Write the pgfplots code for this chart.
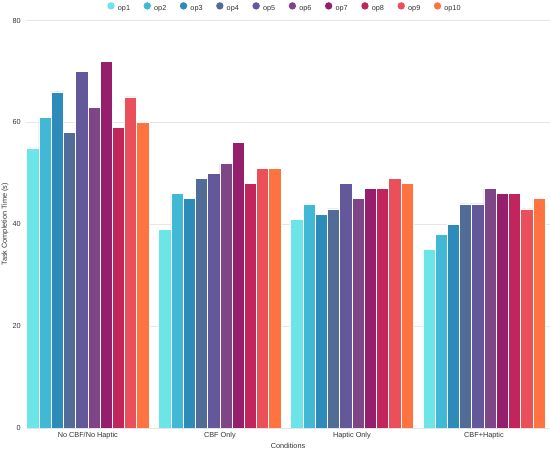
\documentclass[border=0pt]{standalone}
\usepackage{fontspec}
\setmainfont{Liberation Sans}
\usepackage{pgfplots}
\usepackage{pgfplotstable}
\pgfplotsset{compat=1.18}
\definecolor{c1}{HTML}{6CE5E8}
\definecolor{c2}{HTML}{41B8D5}
\definecolor{c3}{HTML}{2D8BBA}
\definecolor{c4}{HTML}{506C97}
\definecolor{c5}{HTML}{63589A}
\definecolor{c6}{HTML}{7E4587}
\definecolor{c7}{HTML}{951F6D}
\definecolor{c8}{HTML}{C2255C}
\definecolor{c9}{HTML}{EB4F5A}
\definecolor{c10}{HTML}{FF7341}
\definecolor{gridc}{HTML}{E6E6E6}
\definecolor{txt}{HTML}{333333}
\pgfplotstableread{
x op1 op2 op3 op4 op5 op6 op7 op8 op9 op10
0 55 61 66 58 70 63 72 59 65 60
1 39 46 45 49 50 52 56 48 51 51
2 41 44 42 43 48 45 47 47 49 48
3 35 38 40 44 44 47 46 46 43 45
}\data
\newcommand{\fs}{\fontsize{7.3}{9}\selectfont}
\begin{document}
\begin{tikzpicture}
\useasboundingbox (-26pt,-25pt) rectangle (524pt,428pt);
\begin{axis}[
  scale only axis, width=524pt, height=407.5pt,
  xmin=-0.468, xmax=3.5, ymin=0, ymax=80,
  ybar=0pt, bar width=0.0926,
  xtick={0,1,2,3},
  xticklabels={No CBF/No Haptic, CBF Only, Haptic Only, CBF+Haptic},
  ytick={0,20,40,60,80},
  /pgf/number format/assume math mode=true,
  ymajorgrids, grid style={line width=0.5pt, color=gridc},
  axis line style={draw=none},
  major tick length=0pt,
  tick label style={font=\fs, text=txt},
  xticklabel style={anchor=center, yshift=-8pt},
  yticklabel style={anchor=east, inner sep=0pt, xshift=-5pt},
  xlabel={Conditions}, ylabel={Task Completion Time (s)},
  every axis x label/.style={at={(axis description cs:0.5,0)}, anchor=center, yshift=-18pt, font=\fs, text=txt},
  every axis y label/.style={at={(axis description cs:0,0.5)}, xshift=-21pt, rotate=90, anchor=center, font=\fs, text=txt},
  legend columns=10,
  legend image code/.code={\fill[#1,draw=none] (3.7pt,2.6pt) circle (3.7pt);},
  legend style={at={(axis description cs:0,1)}, anchor=west, xshift=81.3pt, yshift=13.5pt,
    draw=none, fill=none, inner sep=0pt, outer sep=0pt, font=\fs,
    nodes={inner sep=0pt, text=txt, font=\fs},
    /tikz/every even column/.append style={column sep=13.5pt},
    /tikz/every odd column/.append style={column sep=3.2pt}},
]
\addplot[fill=c1, draw=white, line width=0.6pt, bar shift=-0.4167] table[x=x,y=op1]{\data};
\addlegendentry{op1}
\addplot[fill=c2, draw=white, line width=0.6pt, bar shift=-0.3241] table[x=x,y=op2]{\data};
\addlegendentry{op2}
\addplot[fill=c3, draw=white, line width=0.6pt, bar shift=-0.2315] table[x=x,y=op3]{\data};
\addlegendentry{op3}
\addplot[fill=c4, draw=white, line width=0.6pt, bar shift=-0.1389] table[x=x,y=op4]{\data};
\addlegendentry{op4}
\addplot[fill=c5, draw=white, line width=0.6pt, bar shift=-0.0463] table[x=x,y=op5]{\data};
\addlegendentry{op5}
\addplot[fill=c6, draw=white, line width=0.6pt, bar shift=0.0463] table[x=x,y=op6]{\data};
\addlegendentry{op6}
\addplot[fill=c7, draw=white, line width=0.6pt, bar shift=0.1389] table[x=x,y=op7]{\data};
\addlegendentry{op7}
\addplot[fill=c8, draw=white, line width=0.6pt, bar shift=0.2315] table[x=x,y=op8]{\data};
\addlegendentry{op8}
\addplot[fill=c9, draw=white, line width=0.6pt, bar shift=0.3241] table[x=x,y=op9]{\data};
\addlegendentry{op9}
\addplot[fill=c10, draw=white, line width=0.6pt, bar shift=0.4167] table[x=x,y=op10]{\data};
\addlegendentry{op10}
\end{axis}
\end{tikzpicture}
\end{document}
